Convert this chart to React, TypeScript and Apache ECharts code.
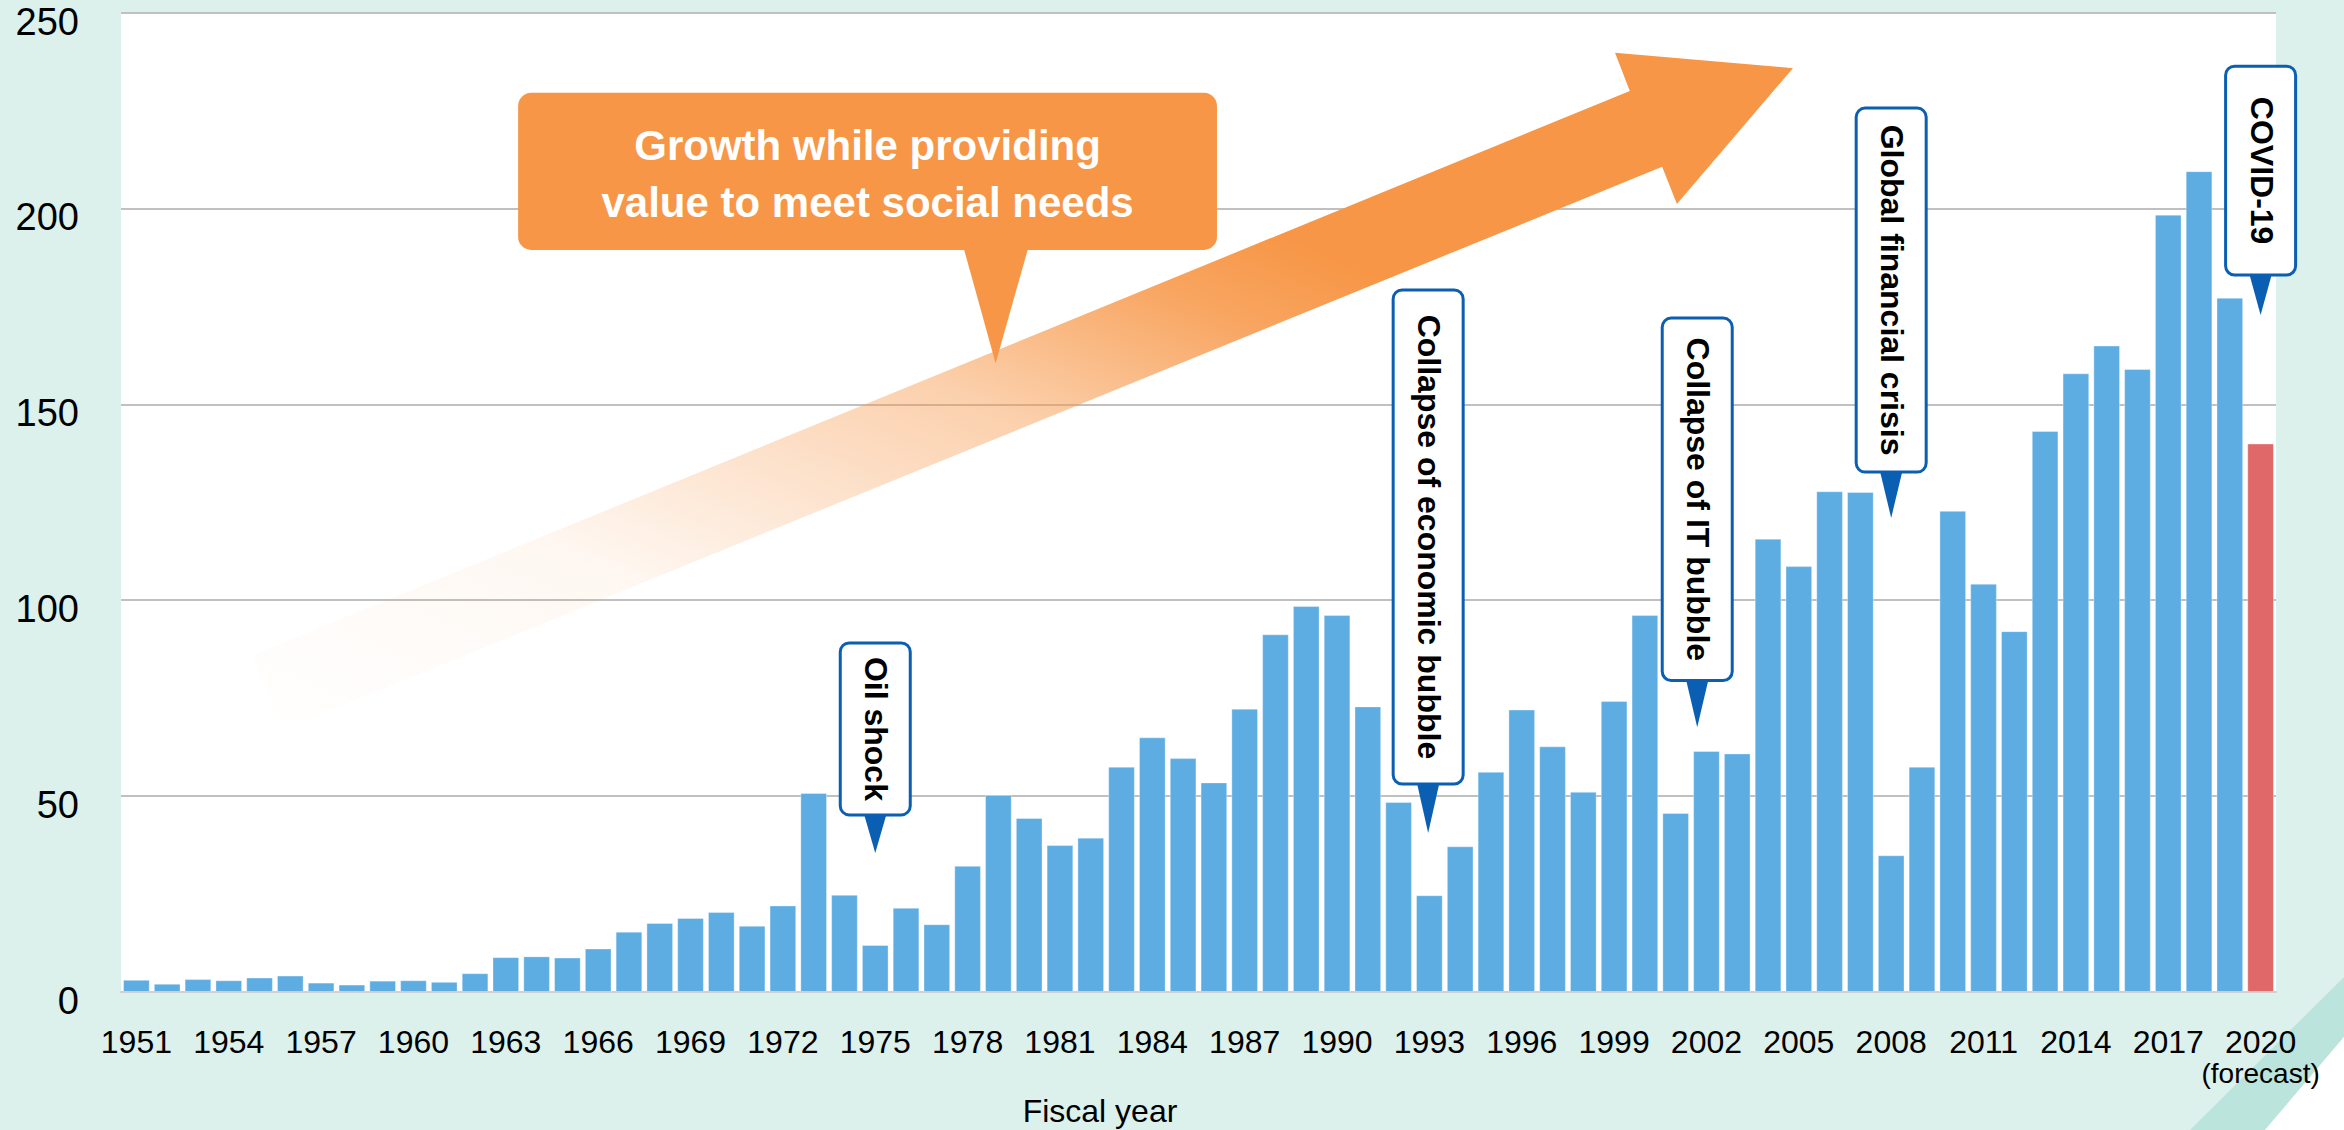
import React, { useEffect, useRef } from 'react';
import * as echarts from 'echarts';

// ---------- data ----------
const FIRST_YEAR = 1951;
const years: string[] = Array.from({ length: 70 }, (_, i) => String(FIRST_YEAR + i));

const values: number[] = [
  // 1951-1972
  3.1, 2.1, 3.3, 3.0, 3.7, 4.2, 2.4, 1.9, 2.9, 3.0, 2.6, 4.8, 8.9, 9.1, 8.8, 11.1, 15.4, 17.6, 18.9, 20.4, 16.9, 22.1,
  // 1973-1998
  50.8, 24.8, 12.0, 21.5, 17.3, 32.2, 50.3, 44.4, 37.5, 39.4, 57.5, 65.0, 59.7, 53.5, 72.3, 91.3, 98.5, 96.2, 72.9, 48.5,
  24.7, 37.2, 56.2, 72.1, 62.7, 51.1,
  // 1999-2020
  74.3, 96.2, 45.7, 61.5, 60.9, 115.7, 108.7, 127.8, 127.6, 34.9, 57.5, 122.8, 104.2, 92.1, 143.2, 157.9, 165.0, 159.0,
  198.4, 209.5, 177.2, 140.0,
];

const forecastYear = '2020';
const forecastNote = '(forecast)';
const yTicks = [0, 50, 100, 150, 200, 250];

// event callouts (anchored in data space: year position, value)
const eventLabels = ['Oil shock', 'Collapse of economic bubble', 'Collapse of IT bubble', 'Global financial crisis', 'COVID-19'];
const eventYears = [1975, 1992.96, 2001.7, 2008, 2020];
const eventTop = [89.1, 179.2, 172.0, 225.6, 236.3];
const eventBottom = [45.2, 53.1, 79.5, 132.7, 183.0];
const eventTip = [35.5, 40.6, 67.6, 121.0, 172.8];

const growthText = 'Growth while providing\nvalue to meet social needs';
const xAxisTitle = 'Fiscal year';

export default function App() {
  const ref = useRef<HTMLDivElement>(null);

  useEffect(() => {
    document.body.style.margin = '0';
    const chart = echarts.init(ref.current!, null, { renderer: 'svg', width: 2344, height: 1130 });

    const FONT = 'Liberation Sans, Arial, sans-serif';
    const option: any = {
      animation: false,
      backgroundColor: '#DCF0EC',
      grid: {
        left: 121,
        right: 68,
        top: 12.5,
        bottom: 138,
        show: true,
        backgroundColor: '#ffffff',
        borderWidth: 0,
      },
      xAxis: {
        type: 'category',
        data: years,
        axisTick: { show: false },
        axisLine: { lineStyle: { color: '#D0D0D0', width: 2 } },
        axisLabel: {
          interval: 2,
          fontSize: 32,
          fontFamily: FONT,
          color: '#000',
          margin: 34,
        },
      },
      yAxis: {
        type: 'value',
        min: yTicks[0],
        max: yTicks[yTicks.length - 1],
        interval: 50,
        axisLine: { show: false },
        axisTick: { show: false },
        splitLine: { lineStyle: { color: '#C0C0C0', width: 2 } },
        axisLabel: {
          fontSize: 38,
          lineHeight: 18,
          verticalAlign: 'top',
          fontFamily: FONT,
          color: '#000',
          margin: 42,
        },
      },
      series: [
        {
          type: 'bar',
          barWidth: '86.7%',
          data: values.map((v, i) =>
            years[i] === forecastYear ? { value: v, itemStyle: { color: '#E06868' } } : v
          ),
          itemStyle: { color: '#5DADE2', borderColor: 'rgba(255,255,255,0.35)', borderWidth: 1 },
        },
      ],
    };
    chart.setOption(option);

    const X0 = chart.convertToPixel({ xAxisIndex: 0 }, years[0]) as number;
    const band = (chart.convertToPixel({ xAxisIndex: 0 }, years[1]) as number) - X0;
    const px = (yp: number) => X0 + (yp - FIRST_YEAR) * band;
    const py = (v: number) => chart.convertToPixel({ yAxisIndex: 0 }, v) as number;
    const base = py(0);

    const elements: any[] = [];

    // decorative diagonal band bottom-right
    elements.push({
      type: 'polygon',
      z: 0,
      shape: { points: [[2190, 1130], [2344, 977], [2344, 1037], [2265, 1130]] },
      style: { fill: '#BBE4DC' },
    });
    elements.push({
      type: 'polygon',
      z: 0,
      shape: { points: [[2265, 1130], [2344, 1037], [2344, 1130]] },
      style: { fill: '#ffffff' },
    });

    // growth arrow (data-space anchors)
    const arrowPts = [
      [1954.79, 86.0],
      [1999.51, 229.96],
      [1999.03, 239.7],
      [2004.81, 235.8],
      [2001.04, 201.1],
      [2000.56, 210.6],
      [1955.73, 66.9],
    ];
    elements.push({
      type: 'polygon',
      z: 5,
      shape: { points: arrowPts.map(([a, b]) => [px(a), py(b)]) },
      style: {
        fill: new echarts.graphic.LinearGradient(0, 1, 1, 0, [
          { offset: 0, color: 'rgba(247,150,70,0)' },
          { offset: 0.23, color: 'rgba(247,150,70,0.07)' },
          { offset: 0.48, color: 'rgba(247,150,70,0.45)' },
          { offset: 0.62, color: 'rgba(247,150,70,0.85)' },
          { offset: 0.7, color: 'rgba(247,150,70,1)' },
          { offset: 1, color: 'rgba(247,150,70,1)' },
        ]),
      },
    });

    // orange callout
    const bx0 = px(1963.4), bx1 = px(1986.1), by0 = py(229.5), by1 = py(189.4);
    elements.push({
      type: 'rect',
      z: 6,
      shape: { x: bx0, y: by0, width: bx1 - bx0, height: by1 - by0, r: 13 },
      style: { fill: '#F79646' },
    });
    elements.push({
      type: 'polygon',
      z: 6,
      shape: { points: [[px(1977.88), by1 - 1], [px(1979.96), by1 - 1], [px(1978.91), py(160.5)]] },
      style: { fill: '#F79646' },
    });
    elements.push({
      type: 'text',
      z: 7,
      x: (bx0 + bx1) / 2,
      y: (by0 + by1) / 2 + 2.5,
      style: {
        text: growthText,
        fill: '#ffffff',
        fontSize: 42,
        fontWeight: 'bold',
        fontFamily: FONT,
        lineHeight: 57,
        align: 'center',
        verticalAlign: 'middle',
      },
    });

    // event callouts
    const BW = 70;
    const BLUE = '#0B5FB2';
    eventLabels.forEach((label, i) => {
      const cx = px(eventYears[i]);
      const t = py(eventTop[i]);
      const b = py(eventBottom[i]);
      const tip = py(eventTip[i]);
      elements.push({
        type: 'polygon',
        z: 8,
        shape: { points: [[cx - 11, b], [cx + 11, b], [cx, tip]] },
        style: { fill: BLUE },
      });
      elements.push({
        type: 'rect',
        z: 9,
        shape: { x: cx - BW / 2, y: t, width: BW, height: b - t, r: 9 },
        style: { fill: '#ffffff', stroke: BLUE, lineWidth: 3 },
      });
      elements.push({
        type: 'text',
        z: 10,
        x: cx + 1,
        y: (t + b) / 2,
        rotation: -Math.PI / 2,
        style: {
          text: label,
          fill: '#000',
          fontSize: 32,
          fontWeight: 'bold',
          fontFamily: FONT,
          align: 'center',
          verticalAlign: 'middle',
        },
      });
    });

    // "(forecast)" note under the 2020 tick label
    elements.push({
      type: 'text',
      z: 10,
      x: chart.convertToPixel({ xAxisIndex: 0 }, forecastYear) as number,
      y: base + 81,
      style: {
        text: forecastNote,
        fill: '#000',
        fontSize: 28,
        fontFamily: FONT,
        align: 'center',
        verticalAlign: 'middle',
      },
    });

    // x-axis title
    elements.push({
      type: 'text',
      z: 10,
      x: 1100,
      y: base + 119,
      style: {
        text: xAxisTitle,
        fill: '#000',
        fontSize: 32,
        fontFamily: FONT,
        align: 'center',
        verticalAlign: 'middle',
      },
    });

    chart.setOption({ graphic: { elements } });

    return () => chart.dispose();
  }, []);

  return (
    <div
      ref={ref}
      style={{ position: 'absolute', left: 0, top: 0, width: 2344, height: 1130 }}
    />
  );
}
